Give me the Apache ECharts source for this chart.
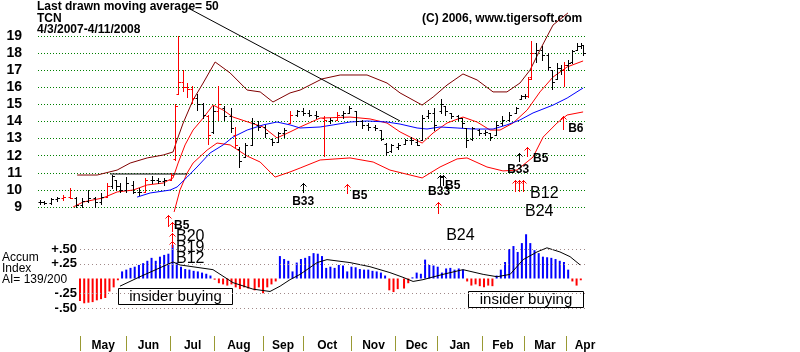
<!DOCTYPE html>
<html>
<head>
<meta charset="utf-8">
<script src="https://cdn.jsdelivr.net/npm/echarts@6/dist/echarts.min.js"></script>
<style>
  html, body { margin: 0; padding: 0; background: #fff; }
  #chart { width: 800px; height: 352px; }
</style>
</head>
<body>
<div id="chart"></div>
<script>
// x = trading day since 4/3/2007
const monthStarts = [19, 41, 62, 83, 106, 125, 148, 169, 189, 210, 230, 250]
const monthMid = [30, 51.5, 72.5, 94.5, 115.5, 136.5, 158.5, 179, 199.5, 220, 240, 259]
const monthNames = ['May', 'Jun', 'Jul', 'Aug', 'Sep', 'Oct', 'Nov', 'Dec', 'Jan', 'Feb', 'Mar', 'Apr']

// [day, open, close, low, high, red]
const ohlc = [
  [0, 9.3, 9.3, 9.2, 9.4, 0], [2, 9.3, 9.25, 9.2, 9.35, 0], [5, 9.25, 9.45, 9.2, 9.5, 0],
  [8, 9.45, 9.5, 9.35, 9.6, 0], [11, 9.5, 9.6, 9.4, 9.7, 1], [14, 9.6, 9.55, 9.5, 10.1, 1],
  [17, 9.5, 9.1, 9.0, 9.6, 0], [20, 9.1, 9.35, 9.0, 9.5, 0], [23, 9.35, 9.5, 9.3, 10.0, 0],
  [26, 9.5, 9.3, 9.0, 9.6, 0], [29, 9.3, 9.6, 9.2, 9.8, 0], [32, 9.6, 10.2, 9.6, 10.4, 1],
  [34, 10.2, 10.8, 10.1, 10.9, 0], [36, 10.6, 10.2, 10.0, 10.6, 0], [38, 10.2, 10.0, 9.9, 10.4, 0],
  [41, 10.0, 10.4, 9.9, 10.75, 0], [44, 10.3, 9.9, 9.8, 10.5, 0], [47, 9.9, 9.9, 9.7, 10.1, 0],
  [50, 9.9, 10.6, 9.9, 10.7, 1], [53, 10.6, 10.6, 10.4, 10.8, 0], [56, 10.6, 10.5, 10.4, 10.7, 0],
  [59, 10.5, 10.6, 10.3, 10.7, 0], [62, 10.6, 10.9, 10.6, 11.0, 1], [64, 11.8, 14.9, 11.75, 15.0, 1],
  [65.5, 15.6, 16.3, 15.6, 19.0, 1], [68, 16.3, 16.0, 15.8, 17.0, 1], [70, 16.0, 15.9, 15.45, 16.25, 1],
  [72, 15.9, 15.4, 15.1, 16.1, 1], [74.5, 15.4, 15.0, 14.7, 15.6, 0], [77.5, 15.0, 14.4, 14.2, 15.1, 0],
  [80, 14.3, 13.2, 12.7, 14.4, 1], [82, 13.4, 14.6, 13.3, 14.9, 0], [84.5, 14.6, 15.0, 14.1, 16.1, 1],
  [87.5, 14.8, 14.3, 14.1, 14.9, 0], [90.5, 14.3, 13.6, 13.4, 14.8, 0], [92.5, 13.2, 12.6, 12.45, 13.7, 1],
  [94.5, 12.4, 11.7, 11.35, 12.5, 0], [97.5, 11.9, 12.6, 11.9, 12.75, 0], [100.5, 12.6, 13.9, 12.6, 14.2, 0],
  [103.5, 13.8, 13.7, 13.5, 14.0, 0], [107, 13.7, 13.3, 13.1, 13.8, 0], [110, 13.0, 12.8, 12.6, 13.0, 0],
  [113, 12.8, 13.3, 12.8, 13.4, 0], [116, 13.3, 13.5, 13.1, 13.6, 0], [119, 13.9, 14.4, 13.9, 14.6, 1],
  [122, 14.4, 14.6, 14.3, 14.7, 0], [125, 14.6, 14.5, 14.4, 14.8, 0], [128, 14.5, 14.4, 14.3, 14.7, 0],
  [131, 14.4, 14.3, 14.2, 14.6, 0], [135, 14.2, 14.1, 12.0, 14.3, 1], [138, 14.0, 14.1, 13.9, 14.2, 0],
  [141, 14.1, 14.4, 14.1, 14.55, 1], [144, 14.4, 14.5, 14.2, 14.6, 0], [147, 14.5, 14.8, 14.5, 14.9, 0],
  [150, 14.6, 14.0, 13.8, 14.6, 0], [153, 14.0, 13.8, 13.6, 14.1, 0], [156, 13.8, 13.7, 13.5, 13.9, 0],
  [159, 13.7, 13.6, 13.5, 13.8, 0], [162, 13.5, 13.0, 12.9, 13.5, 0], [164.5, 12.7, 12.2, 12.05, 12.75, 0],
  [167, 12.3, 12.6, 12.2, 12.7, 0], [170, 12.5, 12.6, 12.4, 12.75, 0], [173.5, 12.7, 12.9, 12.7, 13.0, 0],
  [176.5, 12.9, 12.9, 12.7, 13.1, 0], [179, 12.8, 12.6, 12.6, 13.0, 0], [181.5, 12.9, 14.2, 12.9, 14.4, 0],
  [184.5, 14.3, 14.5, 14.2, 14.7, 0], [187, 14.5, 13.8, 13.5, 14.8, 0], [190.5, 14.6, 15.0, 14.5, 15.3, 0],
  [192.5, 14.9, 14.6, 14.4, 14.9, 0], [195.5, 14.5, 14.3, 14.2, 14.5, 0], [198.5, 14.3, 14.2, 14.1, 14.4, 0],
  [200.5, 14.2, 13.9, 13.7, 14.2, 0], [202.5, 13.6, 12.9, 12.5, 13.6, 0], [205.5, 13.0, 13.6, 12.9, 13.7, 0],
  [208.5, 13.5, 13.3, 13.2, 13.55, 0], [211.5, 13.3, 13.4, 13.2, 13.5, 0], [214, 13.3, 13.1, 12.9, 13.35, 0],
  [216.5, 13.2, 13.8, 13.2, 14.0, 0], [219.5, 13.9, 14.1, 13.8, 14.3, 0], [223, 14.1, 14.4, 14.0, 14.55, 0],
  [226, 14.5, 14.8, 14.5, 14.85, 0], [228.5, 15.3, 15.5, 15.3, 15.55, 0], [230.5, 15.5, 15.5, 15.4, 15.6, 0],
  [232, 15.5, 16.5, 15.45, 16.6, 1], [233.5, 16.6, 18.0, 16.5, 18.7, 1], [235.5, 18.0, 18.2, 17.5, 18.6, 0],
  [238.5, 18.2, 17.9, 17.6, 18.4, 0], [241.5, 17.9, 17.2, 17.0, 18.0, 0], [243.5, 17.0, 16.3, 15.9, 17.0, 0],
  [245.5, 16.5, 17.1, 16.5, 17.4, 0], [247.5, 17.1, 17.0, 16.8, 17.3, 0], [249, 17.0, 17.3, 16.1, 17.5, 1],
  [251, 17.3, 17.4, 17.0, 17.6, 0], [253, 17.5, 18.1, 17.4, 18.2, 0], [255, 18.2, 18.4, 18.2, 18.6, 0],
  [257, 18.4, 18.5, 18.3, 18.6, 0], [258, 18.5, 18.0, 17.9, 18.5, 0]
]

const upperBand = [
  [17.6, 10.87], [27.1, 10.87], [36.6, 11.16], [42.8, 11.57], [50.9, 11.87], [58.5, 12.04],
  [63.2, 12.22], [65.1, 12.92], [68, 13.91], [72.7, 15.26], [77.5, 16.25], [83.2, 17.48],
  [90.3, 16.84], [98.4, 15.84], [104.6, 15.73], [110.7, 15.14], [118.8, 15.67], [123.6, 15.84],
  [134, 16.49], [142.6, 16.72], [155.4, 16.72], [164.9, 16.25], [171.1, 15.67], [181.6, 14.96],
  [186.8, 15.43], [193.4, 16.13], [201, 16.78], [207.7, 16.43], [215.3, 15.73], [221.9, 15.73],
  [228.1, 16.25], [232.9, 17.01], [237.6, 18.18], [243.8, 19.64], [250.9, 20.35]
]
const ma21 = [
  [15.7, 9.0], [20.4, 9.29], [29.9, 9.53], [36.6, 9.88], [44.2, 9.99], [50.9, 10.29],
  [58.5, 10.4], [63.2, 10.7], [65.6, 11.57], [68.9, 12.63], [72.7, 13.5], [77.5, 14.2],
  [82.2, 14.96], [87, 14.67], [91.7, 14.26], [106, 13.68], [112.6, 13.04], [118.8, 13.39],
  [123.6, 13.68], [133.1, 14.2], [147.3, 14.26], [156.8, 14.15], [164.9, 13.91], [171.1, 13.39],
  [175.9, 13.09], [181.6, 12.74], [186.8, 13.33], [193.4, 13.91], [201, 14.26], [207.7, 13.97],
  [213.9, 13.5], [218.6, 13.5], [224.8, 13.91], [231.5, 14.67], [237.6, 15.73], [243.8, 16.6],
  [250.5, 17.19], [258.1, 17.54]
]
const ma50 = [
  [46.1, 9.58], [52.3, 9.82], [61.8, 9.99], [65.1, 10.17], [69.9, 10.75], [74.6, 11.34],
  [80.8, 12.16], [87, 12.63], [91.7, 13.09], [98.4, 13.5], [106, 13.8], [112.6, 13.97],
  [118.8, 13.8], [123.6, 13.62], [133.1, 13.68], [139.3, 13.8], [147.3, 13.97], [155.4, 14.03],
  [164.9, 13.97], [171.1, 13.85], [179.2, 13.62], [183.9, 13.56], [190.1, 13.68], [198.2, 13.62],
  [205.8, 13.56], [215.3, 13.56], [221.9, 13.8], [228.1, 14.09], [234.3, 14.5], [243.8, 14.96],
  [250.5, 15.37], [258.1, 15.96]
]
const lowerBand = [
  [63.7, 8.71], [66.5, 10.0], [69.9, 10.99], [72.7, 11.57], [79.4, 12.33], [84.1, 12.74],
  [90.3, 12.63], [98.4, 11.98], [104.6, 11.63], [111.7, 10.75], [118.8, 11.05], [123.6, 11.28],
  [133.1, 11.75], [147.3, 11.87], [158.3, 11.63], [166.3, 11.16], [175.9, 10.87], [181.6, 10.7],
  [190.1, 11.34], [198.2, 11.81], [202.9, 11.87], [212.4, 11.34], [220, 11.11], [226.7, 11.16],
  [234.3, 11.92], [239.1, 13.09], [245.7, 13.91], [250.5, 14.38], [258.1, 14.56]
]
const trendLine = [[70.3, 20.64], [171.1, 14.03]]
const flatTop = [[33.3, 10.93], [69.9, 10.93]]

// accumulation index
const accum = [
  [19, -0.38], [21, -0.42], [23, -0.41], [25, -0.40], [27, -0.37], [29, -0.35], [31, -0.33],
  [33, -0.22], [35, -0.15], [37, -0.03], [39, 0.12], [41, 0.15], [43, 0.18], [45, 0.2],
  [47, 0.23], [49, 0.26], [51, 0.3], [53, 0.35], [55, 0.3], [57, 0.37], [59, 0.4], [61, 0.42],
  [63, 0.57], [65, 0.27], [67, 0.2], [69, 0.16], [71, 0.15], [73, 0.13], [75, 0.12], [77, 0.1],
  [79, 0.08], [81, 0.05], [83, -0.02], [85, -0.08], [87, -0.1], [89, -0.12], [91, -0.1],
  [93, -0.15], [95, -0.18], [97, -0.15], [99, -0.17], [102, -0.2], [104, -0.15], [106, -0.25],
  [108, -0.15], [110, -0.1], [112, -0.05], [114, 0.38], [116, 0.33], [118, 0.3], [120, 0.12],
  [122, 0.27], [124, 0.33], [126, 0.35], [128, 0.38], [130, 0.43], [132, 0.42], [134, 0.38],
  [136, 0.18], [138, 0.2], [140, 0.18], [142, 0.23], [144, 0.22], [146, 0.12], [148, 0.2],
  [150, 0.19], [152, 0.16], [154, 0.15], [156, 0.15], [158, 0.13], [160, 0.12], [162, 0.1],
  [164, 0.05], [166, -0.2], [168, -0.23], [170, -0.18], [173, -0.17], [175, -0.08], [177, 0.02],
  [179, 0.1], [181, 0.08], [183, 0.32], [185, 0.23], [187, 0.22], [189, 0.2], [191, 0.1],
  [193, 0.17], [195, 0.18], [197, 0.15], [199, 0.17], [201, 0.15], [203, -0.05], [205, -0.12],
  [207, -0.1], [209, -0.13], [211, -0.15], [213, -0.12], [215, -0.13], [217, 0.05], [219, 0.15],
  [221, 0.28], [223, 0.5], [225, 0.55], [227, 0.45], [229, 0.6], [231, 0.75], [233, 0.6],
  [235, 0.48], [237, 0.43], [239, 0.37], [241, 0.36], [243, 0.35], [245, 0.33], [247, 0.3],
  [249, 0.28], [251, 0.15], [253, -0.05], [255, -0.12], [257, -0.03]
]
const accumAvg = [
  [38, -0.13], [47.5, 0.03], [63.2, 0.28], [66.5, 0.23], [82.2, 0.15], [91.7, -0.07],
  [101.2, -0.18], [109.3, -0.22], [114.1, -0.13], [118.8, -0.02], [123.6, 0.07], [131.7, 0.27],
  [136.4, 0.32], [147.3, 0.27], [156.8, 0.2], [166.3, 0.1], [172.5, 0.02], [177.3, -0.05],
  [182, -0.02], [191.5, 0.07], [201, 0.15], [210.6, 0.07], [217.2, 0.03], [223.4, 0.07],
  [229.6, 0.32], [236.2, 0.45], [240.9, 0.52], [247.1, 0.45], [251.9, 0.37], [256.7, 0.23]
]
const accumLevels = [0.5, 0.25, -0.25, -0.5]
const accumTickText = { '0.5': '+.50', '0.25': '+.25', '-0.25': '-.25', '-0.5': '-.50' }

// signal arrows [day, tip price, base price, red]
const arrows = [
  [60.8, 8.53, 7.83, 1], [62.7, 8.12, 7.54, 1], [62.7, 7.48, 6.9, 1], [62.7, 7.01, 6.6, 1],
  [125, 10.4, 9.82, 0], [145.9, 10.35, 9.77, 1],
  [190.1, 10.87, 10.23, 0], [191.5, 10.87, 10.23, 0], [189.2, 9.29, 8.6, 1],
  [227.7, 12.16, 11.63, 0], [231.5, 12.51, 11.92, 1],
  [225.8, 10.58, 9.88, 1], [227.7, 10.58, 9.88, 1], [229.6, 10.58, 9.88, 1],
  [248.6, 14.32, 13.5, 1]
]
// signal labels [day, price, text, kind]
const signalLabels = [
  [63.7, 7.89, 'B5', 'small'], [64.6, 7.25, 'B20', 'big'], [64.6, 6.6, 'B19', 'big'],
  [64.6, 5.96, 'B12', 'big'], [119.8, 9.29, 'B33', 'small'], [148.3, 9.64, 'B5', 'small'],
  [184.4, 9.88, 'B33', 'small'], [192.5, 10.23, 'B5', 'small'], [193, 7.3, 'B24', 'big'],
  [222, 11.16, 'B33', 'small'], [234.3, 11.81, 'B5', 'small'], [232.9, 9.76, 'B12', 'big'],
  [230.5, 8.71, 'B24', 'big'], [251, 13.56, 'B6', 'small']
]

const FONT = '"Liberation Sans", Arial, sans-serif'
const labelStyle = {
  small: { fontSize: 12, fontWeight: 'bold' },
  big: { fontSize: 16, fontWeight: 'normal' }
}

const chart = echarts.init(document.getElementById('chart'))

const lineSeries = (name, data, color, xi) => ({
  name: name,
  type: 'line',
  xAxisIndex: xi || 0,
  yAxisIndex: xi || 0,
  data: data,
  showSymbol: false,
  symbol: 'none',
  clip: false,
  silent: true,
  lineStyle: { color: color, width: 1 },
  z: 3
})

const renderBar = (params, api) => {
  const d = api.value(0)
  const o = api.coord([d, api.value(1)])
  const c = api.coord([d, api.value(2)])
  const l = api.coord([d, api.value(3)])
  const h = api.coord([d, api.value(4)])
  const x = Math.round(h[0]) + 0.5
  const color = api.value(5) ? '#ff0000' : '#000000'
  const st = { stroke: color, lineWidth: 1 }
  return {
    type: 'group',
    children: [
      { type: 'line', shape: { x1: x, y1: Math.round(h[1]), x2: x, y2: Math.round(l[1]) + 1 }, style: st },
      { type: 'line', shape: { x1: x - 2, y1: Math.round(o[1]) + 0.5, x2: x, y2: Math.round(o[1]) + 0.5 }, style: st },
      { type: 'line', shape: { x1: x, y1: Math.round(c[1]) + 0.5, x2: x + 2.5, y2: Math.round(c[1]) + 0.5 }, style: st }
    ]
  }
}

const renderArrow = (params, api) => {
  const tip = api.coord([api.value(0), api.value(1)])
  const base = api.coord([api.value(0), api.value(2)])
  const x = Math.round(tip[0]) + 0.5
  const y = Math.round(tip[1])
  const color = api.value(3) ? '#ff0000' : '#000000'
  return {
    type: 'group',
    children: [
      { type: 'line', shape: { x1: x, y1: y, x2: x, y2: Math.round(base[1]) }, style: { stroke: color, lineWidth: 1 } },
      { type: 'polyline', shape: { points: [[x - 3, y + 3.5], [x, y + 0.5], [x + 3, y + 3.5]] }, style: { stroke: color, fill: null, lineWidth: 1 } }
    ]
  }
}

const renderLabel = (params, api) => {
  const s = signalLabels[params.dataIndex]
  const p = api.coord([s[0], s[1]])
  const ls = labelStyle[s[3]]
  return {
    type: 'text',
    x: p[0],
    y: p[1],
    style: {
      text: s[2], fill: '#000', fontSize: ls.fontSize, fontWeight: ls.fontWeight,
      fontFamily: FONT, align: 'left', verticalAlign: 'middle'
    }
  }
}

const option = {
  animation: false,
  backgroundColor: '#ffffff',
  grid: [
    { left: 38, right: 215, top: 36, height: 171 },
    { left: 80, right: 215, top: 249, height: 60 }
  ],
  xAxis: [
    { type: 'value', gridIndex: 0, min: -1, max: 259, show: false },
    {
      type: 'value', gridIndex: 1, min: 19, max: 259, position: 'bottom', offset: 28,
      axisLine: { show: false, onZero: false },
      splitLine: { show: false },
      axisTick: { show: true, customValues: monthStarts, length: 15, lineStyle: { color: '#999933', width: 1 } },
      axisLabel: {
        customValues: monthMid, margin: 4, color: '#000', fontSize: 12, fontWeight: 'bold', fontFamily: FONT,
        formatter: (v) => {
          let best = 0
          monthMid.forEach((m, i) => { if (Math.abs(m - v) < Math.abs(monthMid[best] - v)) best = i })
          return monthNames[best]
        }
      }
    }
  ],
  yAxis: [
    {
      type: 'value', gridIndex: 0, min: 9, max: 19, interval: 1,
      axisLine: { show: false }, axisTick: { show: false },
      splitLine: { show: true, lineStyle: { color: '#008000', type: [1, 2], width: 1 } },
      axisLabel: { margin: 16, color: '#000', fontSize: 14, fontWeight: 'bold', fontFamily: FONT }
    },
    {
      type: 'value', gridIndex: 1, min: -0.5, max: 0.5, interval: 0.25,
      axisLine: { show: false }, axisTick: { show: false }, splitLine: { show: false },
      axisLabel: {
        margin: 3, color: '#000', fontSize: 13, fontWeight: 'bold', fontFamily: FONT,
        formatter: (v) => accumTickText[String(v)] || ''
      }
    }
  ],
  series: [
    {
      name: 'Accum',
      type: 'bar',
      xAxisIndex: 1,
      yAxisIndex: 1,
      data: accum,
      barWidth: 2,
      clip: false,
      silent: true,
      itemStyle: { color: (p) => (p.value[1] >= 0 ? '#0000ff' : '#ff0000') },
      markLine: {
        silent: true,
        symbol: 'none',
        label: { show: false },
        lineStyle: { color: '#a08888', type: [1, 3], width: 1 },
        data: accumLevels.map((v) => ({ yAxis: v }))
      },
      z: 2
    },
    lineSeries('AccumAvg', accumAvg, '#000000', 1),
    lineSeries('Upper', upperBand, '#800000'),
    lineSeries('Lower', lowerBand, '#ff0000'),
    lineSeries('MA21', ma21, '#ff0000'),
    lineSeries('MA50', ma50, '#0000ff'),
    lineSeries('Trend', trendLine, '#000000'),
    lineSeries('FlatTop', flatTop, '#000000'),
    {
      name: 'TCN',
      type: 'custom',
      renderItem: renderBar,
      data: ohlc,
      encode: { x: 0, y: [1, 2, 3, 4] },
      clip: false,
      silent: true,
      z: 4
    },
    {
      name: 'Signals',
      type: 'custom',
      renderItem: renderArrow,
      data: arrows,
      encode: { x: 0, y: [1, 2] },
      clip: false,
      silent: true,
      z: 5
    },
    {
      name: 'SignalText',
      type: 'custom',
      renderItem: renderLabel,
      data: signalLabels.map((s) => [s[0], s[1]]),
      encode: { x: 0, y: 1 },
      clip: false,
      silent: true,
      z: 6
    }
  ],
  graphic: [
    { type: 'text', left: 37, top: 1, style: { text: 'Last drawn moving average= 50', fill: '#000', font: 'bold 12px ' + FONT } },
    { type: 'text', left: 37, top: 13, style: { text: 'TCN', fill: '#000', font: 'bold 12px ' + FONT } },
    { type: 'text', left: 37, top: 24, style: { text: '4/3/2007-4/11/2008', fill: '#000', font: 'bold 12px ' + FONT } },
    { type: 'text', left: 422, top: 13, style: { text: '(C) 2006, www.tigersoft.com', fill: '#000', font: 'bold 12px ' + FONT } },
    { type: 'text', left: 2, top: 252, style: { text: 'Accum', fill: '#000', font: '12px ' + FONT } },
    { type: 'text', left: 2, top: 263, style: { text: 'Index', fill: '#000', font: '12px ' + FONT } },
    { type: 'text', left: 2, top: 274, style: { text: 'AI= 139/200', fill: '#000', font: '12px ' + FONT } },
    {
      type: 'group', z: 100,
      children: [
        { type: 'rect', shape: { x: 118.5, y: 288.5, width: 114, height: 16 }, style: { fill: '#fff', stroke: '#000', lineWidth: 1 } },
        { type: 'text', x: 175.5, y: 297, style: { text: 'insider buying', fill: '#000', font: '15px ' + FONT, align: 'center', verticalAlign: 'middle' } },
        { type: 'rect', shape: { x: 468.5, y: 291.5, width: 115, height: 16 }, style: { fill: '#fff', stroke: '#000', lineWidth: 1 } },
        { type: 'text', x: 526, y: 300, style: { text: 'insider buying', fill: '#000', font: '15px ' + FONT, align: 'center', verticalAlign: 'middle' } }
      ]
    }
  ]
}

chart.setOption(option)
</script>
</body>
</html>
